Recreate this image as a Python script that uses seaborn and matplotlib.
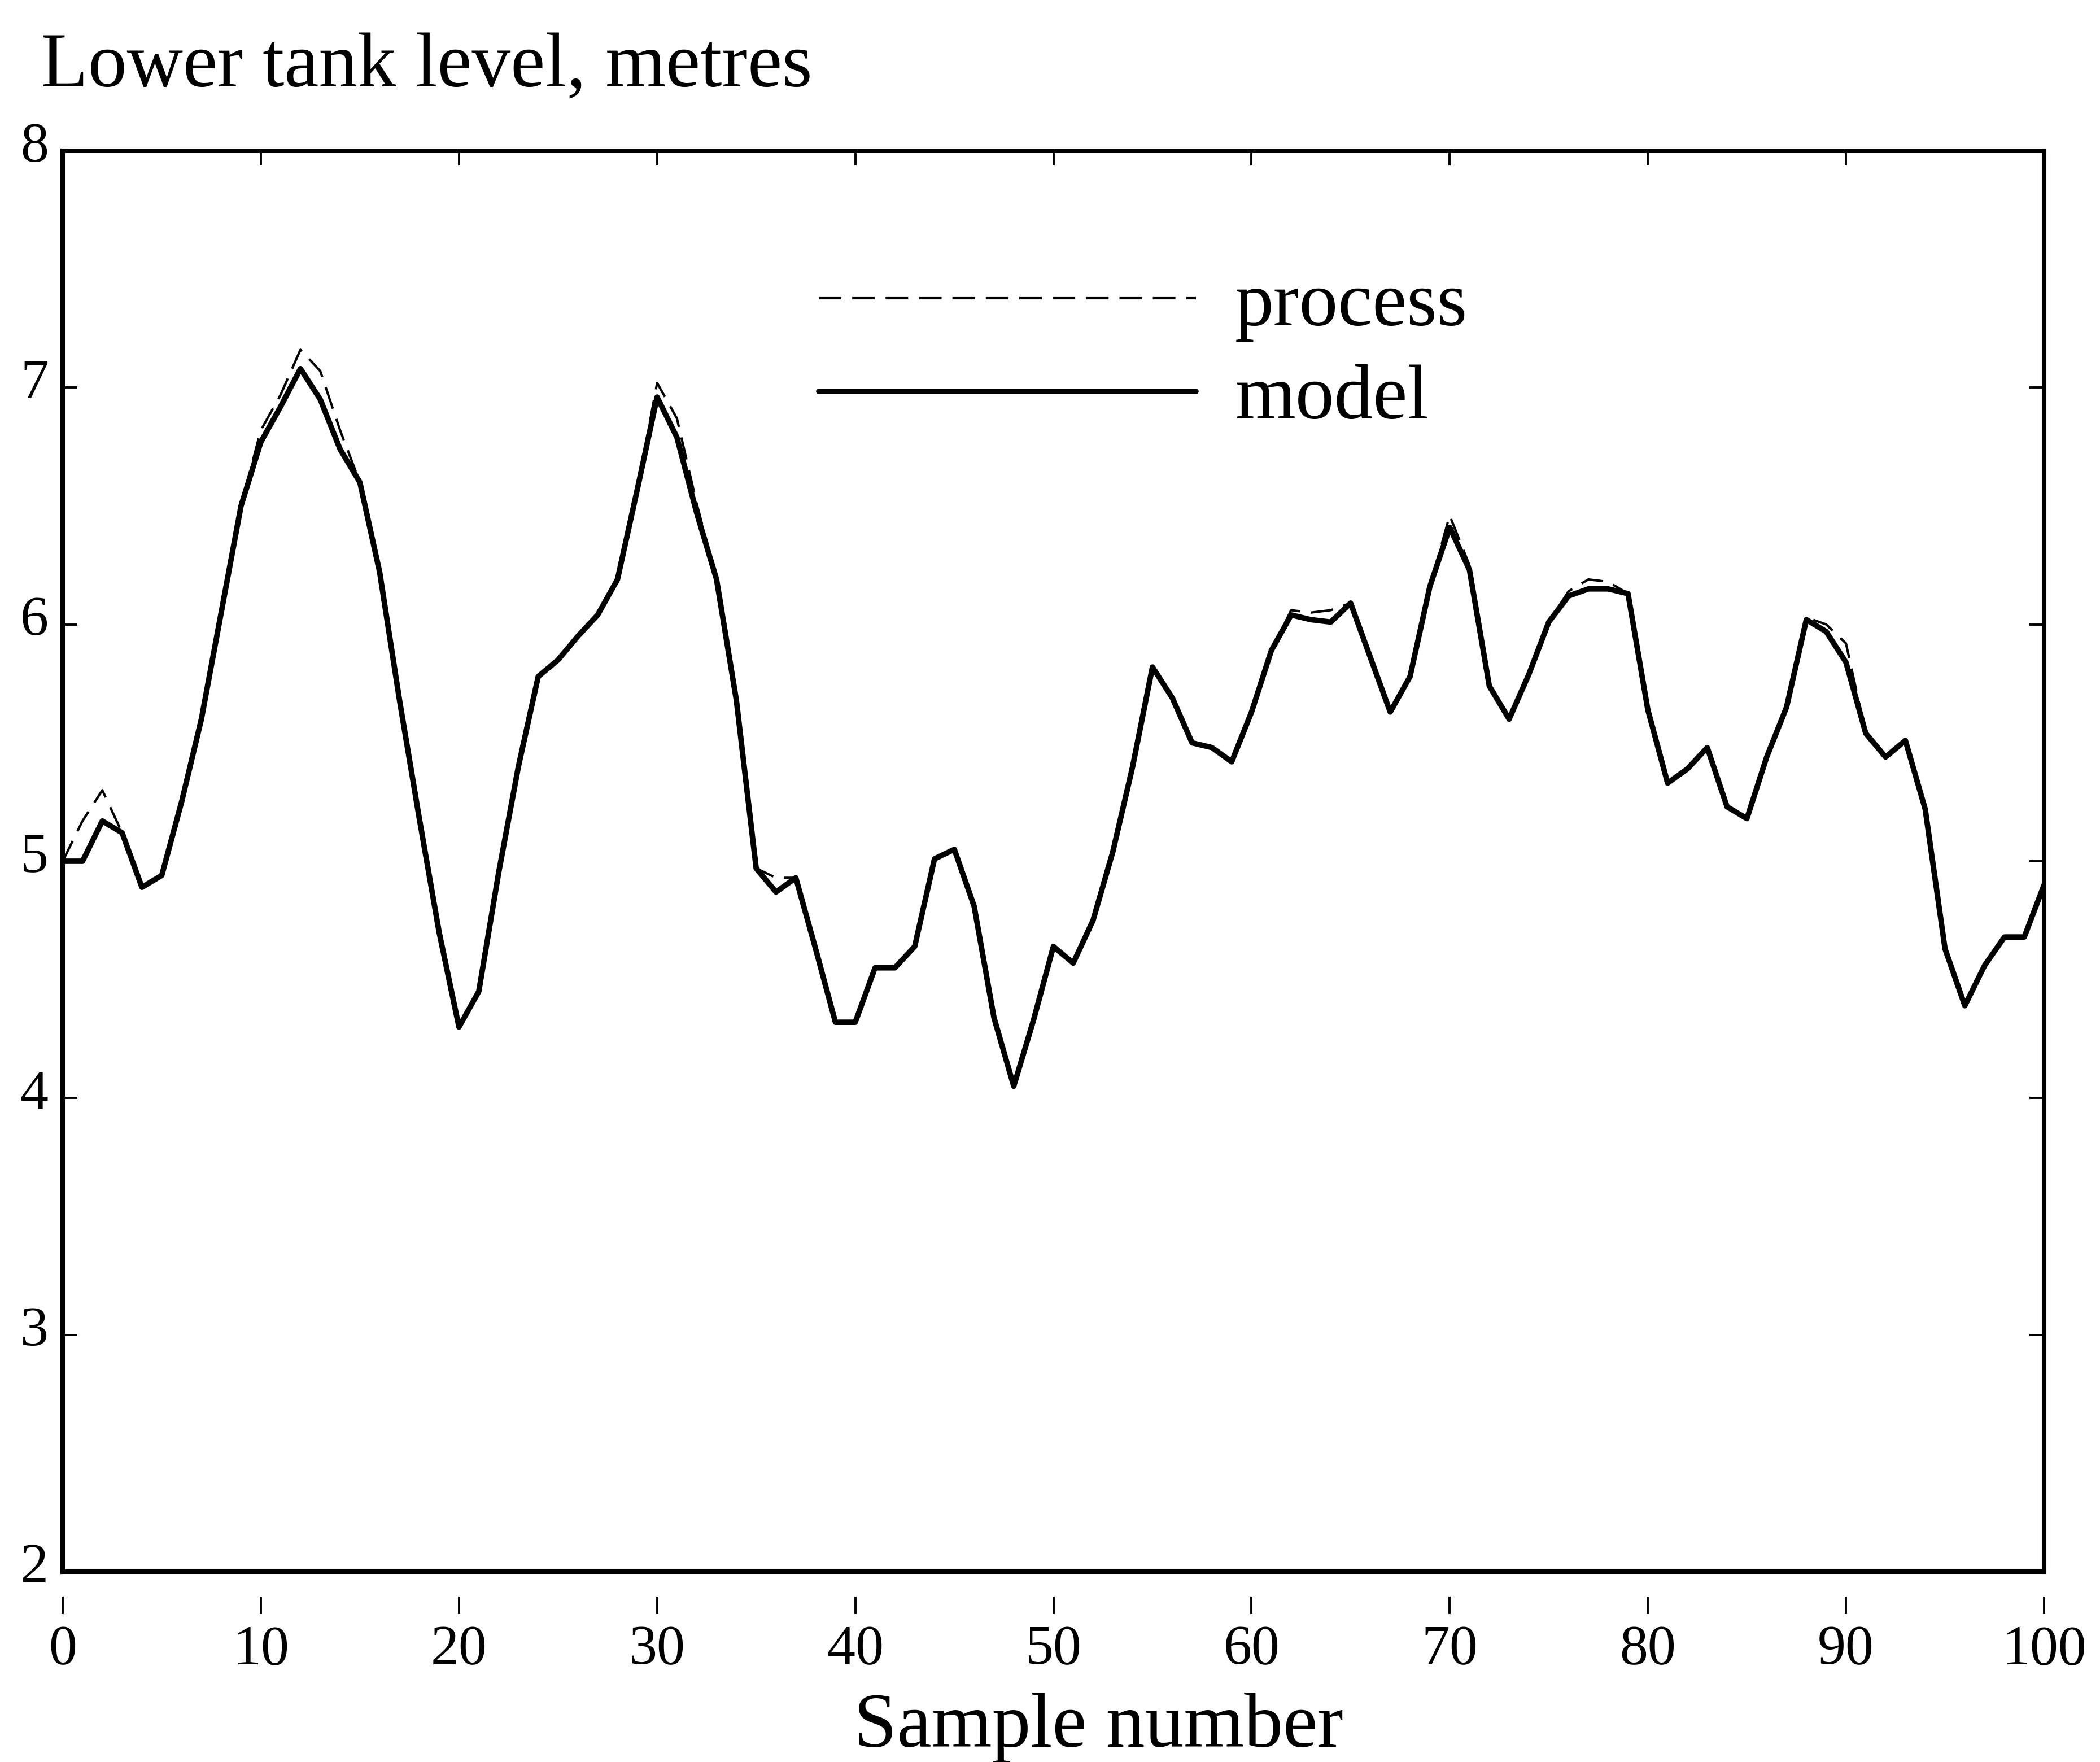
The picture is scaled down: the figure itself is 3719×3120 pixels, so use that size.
import matplotlib
matplotlib.use("Agg")
import matplotlib.pyplot as plt
import matplotlib.transforms as mtransforms
import numpy as np
import pandas as pd
import seaborn as sns

# Sample index 0..100
samples = list(range(101))

# Lower tank level predicted by the model (metres)
model_level = [
    5.00, 5.00, 5.17, 5.12, 4.89, 4.94, 5.25, 5.60, 6.05, 6.50,
    6.77, 6.92, 7.08, 6.95, 6.74, 6.60, 6.22, 5.68, 5.18, 4.70,
    4.30, 4.45, 4.95, 5.40, 5.78, 5.85, 5.95, 6.04, 6.19, 6.57,
    6.96, 6.79, 6.47, 6.19, 5.68, 4.97, 4.87, 4.93, 4.63, 4.32,
    4.32, 4.55, 4.55, 4.64, 5.01, 5.05, 4.81, 4.34, 4.05, 4.33,
    4.64, 4.57, 4.75, 5.04, 5.40, 5.82, 5.69, 5.50, 5.48, 5.42,
    5.63, 5.89, 6.04, 6.02, 6.01, 6.09, 5.86, 5.63, 5.78, 6.16,
    6.41, 6.23, 5.74, 5.60, 5.79, 6.01, 6.12, 6.15, 6.15, 6.13,
    5.64, 5.33, 5.39, 5.48, 5.23, 5.18, 5.44, 5.65, 6.02, 5.97,
    5.84, 5.54, 5.44, 5.51, 5.22, 4.63, 4.39, 4.56, 4.68, 4.68,
    4.90,
]

# Measured lower tank level of the process (metres)
process_level = [
    5.00, 5.17, 5.30, 5.12, 4.89, 4.94, 5.25, 5.60, 6.05, 6.50,
    6.82, 6.97, 7.16, 7.07, 6.82, 6.60, 6.22, 5.68, 5.18, 4.70,
    4.30, 4.45, 4.95, 5.40, 5.78, 5.85, 5.95, 6.04, 6.19, 6.57,
    7.02, 6.87, 6.51, 6.19, 5.68, 4.97, 4.93, 4.93, 4.63, 4.32,
    4.32, 4.55, 4.55, 4.64, 5.01, 5.05, 4.81, 4.34, 4.05, 4.33,
    4.64, 4.57, 4.75, 5.04, 5.40, 5.82, 5.69, 5.50, 5.48, 5.42,
    5.63, 5.89, 6.06, 6.05, 6.06, 6.09, 5.86, 5.63, 5.78, 6.16,
    6.46, 6.25, 5.74, 5.60, 5.79, 6.01, 6.14, 6.19, 6.18, 6.13,
    5.64, 5.33, 5.39, 5.48, 5.23, 5.18, 5.44, 5.65, 6.03, 6.00,
    5.92, 5.54, 5.44, 5.51, 5.22, 4.63, 4.39, 4.56, 4.68, 4.68,
    4.90,
]

x_ticks = list(range(0, 101, 10))
y_ticks = [2, 3, 4, 5, 6, 7, 8]
series_labels = ["process", "model"]

df = pd.DataFrame({
    "sample": samples,
    "process": process_level,
    "model": model_level,
})

sns.set_theme(style="white")
plt.rcParams["font.family"] = ["Liberation Serif", "DejaVu Serif"]
plt.rcParams["axes.edgecolor"] = "black"

W, H, DPI = 3719, 3120, 100
fig = plt.figure(figsize=(W / DPI, H / DPI), dpi=DPI)
fig.patch.set_facecolor("white")

ax_left, ax_right, ax_top, ax_bottom = 111, 3620, 267, 2783
ax = fig.add_axes([ax_left / W, 1 - ax_bottom / H,
                   (ax_right - ax_left) / W, (ax_bottom - ax_top) / H])

sns.lineplot(data=df, x="sample", y="process", ax=ax, color="black",
             linewidth=3.0, linestyle=(0, (9.6, 4.6)), label=series_labels[0])
sns.lineplot(data=df, x="sample", y="model", ax=ax, color="black",
             linewidth=7.0, label=series_labels[1])

ax.set_xlim(0, 100)
ax.set_ylim(2, 8)
ax.set_xlabel("")
ax.set_ylabel("")
ax.set_xticks(x_ticks)
ax.set_yticks(y_ticks)
ax.set_yticklabels([str(v) for v in y_ticks])

for side in ["left", "right", "top", "bottom"]:
    ax.spines[side].set_visible(True)
    ax.spines[side].set_linewidth(5.8)
    ax.spines[side].set_color("black")

ax.tick_params(axis="x", which="both", bottom=False, labelbottom=False,
               top=True, labeltop=False, direction="in", length=19,
               width=2.8, color="black")
ax.tick_params(axis="y", which="both", left=True, right=True,
               labelleft=True, labelright=False, direction="in",
               length=19, width=2.8, color="black", pad=18, labelsize=72,
               labelcolor="black")

# nudge the y tick numbers slightly upward
shift = mtransforms.ScaledTranslation(0, 16 / DPI, fig.dpi_scale_trans)
for lab in ax.get_yticklabels():
    lab.set_transform(lab.get_transform() + shift)

# detached bottom scale with outward ticks
sec = ax.secondary_xaxis(location=-44 / (ax_bottom - ax_top))
sec.set_xticks(x_ticks)
sec.set_xticklabels([str(v) for v in x_ticks])
for s in sec.spines.values():
    s.set_visible(False)
sec.tick_params(axis="x", direction="out", length=22, width=2.8,
                color="black", pad=14, labelsize=72, labelcolor="black")

leg = ax.legend(loc="center left",
                bbox_to_anchor=(1450 / W, 1 - 625 / H),
                bbox_transform=fig.transFigure,
                frameon=False, fontsize=99, handlelength=4.86,
                handletextpad=0.5, labelspacing=0.29,
                borderpad=0, borderaxespad=0)
for t in leg.get_texts():
    t.set_color("black")

fig.text(72 / W, 1 - 153 / H, "Lower tank level, metres", ha="left",
         va="baseline", fontsize=99, color="black")
fig.text(1945 / W, 1 - 3093 / H, "Sample number", ha="center",
         va="baseline", fontsize=99, color="black")

fig.savefig("out.png", dpi=DPI, facecolor="white")
